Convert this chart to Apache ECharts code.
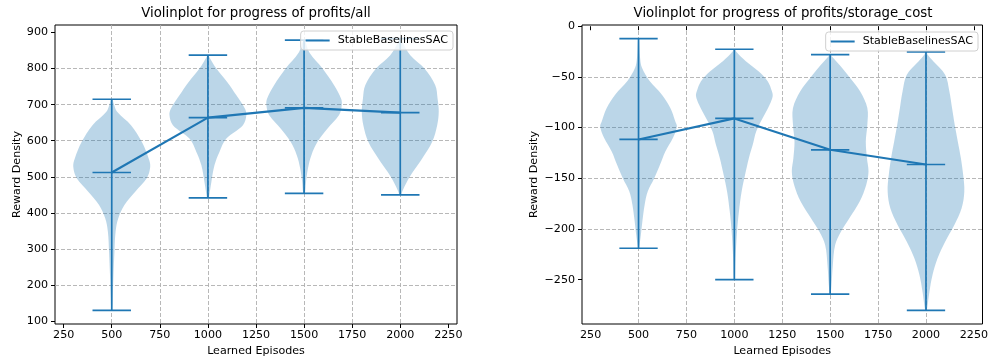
<!DOCTYPE html>
<html><head><meta charset="utf-8">
<script src="https://cdn.jsdelivr.net/npm/echarts@6/dist/echarts.min.js"></script>
<style>html,body{margin:0;padding:0;background:#fff}#c{width:991px;height:363px}</style>
</head><body><div id="c"></div>
<script>
// ---------- data ----------
const positions = [500, 1000, 1500, 2000];
const seriesName = 'StableBaselinesSAC';
const xTickValues = [250, 500, 750, 1000, 1250, 1500, 1750, 2000, 2250];
const allTickValues = [100, 200, 300, 400, 500, 600, 700, 800, 900];
const scTickValues = [-250, -200, -150, -100, -50, 0];

// profits/all : summary per position
const allMax = [715, 837, 879, 883];
const allMin = [130, 442, 454, 450];
const allMean = [512, 664, 691, 678];
// violin outlines: [reward, relative density width]
const all500 = [[715,0.02],[703,0.05],[680,0.14],[643,0.5],[597,0.78],[551,0.96],[528,1.0],[496,0.91],[459,0.61],[422,0.33],[385,0.17],[348,0.1],[292,0.07],[228,0.045],[163,0.025],[130,0.01]];
const all1000 = [[837,0.02],[833,0.03],[800,0.22],[763,0.5],[726,0.74],[689,0.96],[671,1.0],[643,0.91],[606,0.48],[569,0.3],[532,0.17],[486,0.09],[445,0.03],[442,0.02]];
const all1500 = [[879,0.02],[846,0.13],[800,0.48],[754,0.78],[717,0.96],[699,0.98],[671,0.91],[634,0.61],[597,0.35],[560,0.19],[523,0.1],[486,0.05],[454,0.02]];
const all2000 = [[883,0.02],[874,0.05],[837,0.26],[800,0.63],[754,0.91],[717,0.97],[680,1.0],[643,0.96],[597,0.83],[551,0.57],[514,0.33],[486,0.17],[459,0.05],[450,0.02]];

// profits/storage_cost : summary per position
const scMax = [-12.2, -22.7, -28, -25.4];
const scMin = [-219, -250, -264.2, -280.3];
const scMean = [-111.7, -90.9, -121.9, -136.4];
const sc500 = [[-12.2,0.01],[-31,0.04],[-41,0.09],[-54,0.29],[-67.5,0.61],[-80.7,0.83],[-93.9,0.96],[-98.8,1.0],[-110,0.9],[-123.5,0.7],[-136.7,0.56],[-149.9,0.41],[-163,0.24],[-176,0.16],[-192.7,0.1],[-205.9,0.06],[-219,0.01]];
const sc1000 = [[-22.7,0.02],[-24.7,0.04],[-34.6,0.3],[-44.5,0.63],[-54.3,0.87],[-64.2,0.98],[-69,1.0],[-77.4,0.92],[-90.6,0.74],[-103.8,0.57],[-117,0.48],[-130,0.38],[-146.6,0.28],[-163,0.19],[-182.8,0.12],[-202.6,0.07],[-229,0.03],[-250,0.01]];
const sc1500 = [[-28,0.02],[-29.6,0.04],[-37.9,0.24],[-51,0.52],[-64.2,0.78],[-80.7,0.97],[-97.2,0.97],[-113.6,0.93],[-130.1,0.96],[-143.3,1.0],[-156.5,0.94],[-172.9,0.77],[-189.4,0.5],[-202.6,0.28],[-215.8,0.13],[-235.5,0.07],[-255.3,0.035],[-264.2,0.01]];
const sc2000 = [[-25.4,0.02],[-28,0.04],[-34.6,0.19],[-47.8,0.5],[-64.2,0.61],[-80.7,0.68],[-97.2,0.75],[-113.6,0.83],[-130,0.91],[-146.6,0.97],[-163,1.0],[-179.5,0.93],[-196,0.74],[-212.5,0.5],[-229,0.3],[-245.4,0.17],[-261.9,0.09],[-278.3,0.03],[-280.3,0.01]];

// ---------- chart ----------
const C0 = '#1f77b4';
const FONT = '"DejaVu Sans", "Liberation Sans", sans-serif';
const violinWidth = 400, capWidth = 200;
const halfW = violinWidth / 2, capHalf = capWidth / 2;

function padExtent(lo, hi) { const m = 0.05 * (hi - lo); return [lo - m, hi + m]; }
const xExt = padExtent(positions[0] - halfW, positions[positions.length - 1] + halfW);
const allExt = padExtent(Math.min(...allMin), Math.max(...allMax));
const scExt = padExtent(Math.min(...scMin), Math.max(...scMax));

const grids = [
  { left: 55, top: 25, width: 402, height: 299 },
  { left: 582, top: 25, width: 402, height: 299 }
];

function fmtNum(v) { return v < 0 ? '\u2212' + Math.abs(v) : String(v); }

function xAxisOf(i) {
  return {
    gridIndex: i, type: 'value', min: xExt[0], max: xExt[1],
    minInterval: xTickValues[1] - xTickValues[0], maxInterval: xTickValues[1] - xTickValues[0],
    name: 'Learned Episodes', nameLocation: 'middle', nameGap: 21,
    nameTextStyle: { color: '#000', fontSize: 11.1, fontFamily: FONT },
    axisLine: { show: false },
    axisTick: { show: true, length: 4, customValues: xTickValues, lineStyle: { color: '#000', width: 1 } },
    axisLabel: { color: '#000', fontSize: 11.1, fontFamily: FONT, margin: 6, customValues: xTickValues, formatter: fmtNum },
    splitLine: { show: true, showMinLine: false, showMaxLine: false, lineStyle: { color: '#b0b0b0', width: 0.9, type: [4, 2] } }
  };
}
function yAxisOf(i, ext, ticks, gap) {
  return {
    gridIndex: i, type: 'value', min: ext[0], max: ext[1],
    minInterval: ticks[1] - ticks[0], maxInterval: ticks[1] - ticks[0],
    name: 'Reward Density', nameLocation: 'middle', nameGap: gap,
    nameTextStyle: { color: '#000', fontSize: 11.1, fontFamily: FONT },
    axisLine: { show: false },
    axisTick: { show: true, length: 4, customValues: ticks, lineStyle: { color: '#000', width: 1 } },
    axisLabel: { color: '#000', fontSize: 11.1, fontFamily: FONT, margin: 7, customValues: ticks, formatter: fmtNum },
    splitLine: { show: true, showMinLine: false, showMaxLine: false, lineStyle: { color: '#b0b0b0', width: 0.9, type: [4, 2] } }
  };
}

function violinSeries(i, profiles, mins, maxs, means) {
  return {
    type: 'custom', xAxisIndex: i, yAxisIndex: i, silent: true, clip: false,
    data: positions.map((p, k) => [p, mins[k], maxs[k], means[k], k]),
    encode: { x: 0, y: [1, 2] },
    renderItem: function (params, api) {
      const pos = api.value(0), lo = api.value(1), hi = api.value(2), mean = api.value(3);
      const prof = profiles[api.value(4)];
      const right = prof.map(d => api.coord([pos + d[1] * halfW, d[0]]));
      const left = prof.slice().reverse().map(d => api.coord([pos - d[1] * halfW, d[0]]));
      const pts = right.concat(left);
      const ls = { stroke: C0, lineWidth: 1.7 };
      function seg(x1, y1, x2, y2) {
        const a = api.coord([x1, y1]), b = api.coord([x2, y2]);
        return { type: 'line', shape: { x1: a[0], y1: a[1], x2: b[0], y2: b[1] }, style: ls };
      }
      return {
        type: 'group',
        children: [
          { type: 'polygon', shape: { points: pts, smooth: 0.35 }, style: { fill: 'rgba(31,119,180,0.3)', stroke: null } },
          seg(pos, lo, pos, hi),
          seg(pos - capHalf, lo, pos + capHalf, lo),
          seg(pos - capHalf, hi, pos + capHalf, hi),
          seg(pos - capHalf, mean, pos + capHalf, mean)
        ]
      };
    }
  };
}

function meanLine(i, means) {
  return {
    name: seriesName, type: 'line', xAxisIndex: i, yAxisIndex: i, silent: true,
    data: positions.map((p, k) => [p, means[k]]),
    symbol: 'none', showSymbol: false,
    lineStyle: { color: C0, width: 2.1 }, itemStyle: { color: C0 }
  };
}

function legendOf(right, top) {
  return {
    data: [seriesName], right: right, top: top, orient: 'horizontal',
    icon: 'rect', itemWidth: 24, itemHeight: 2,
    backgroundColor: 'rgba(255,255,255,0.8)', borderColor: '#d0d0d0', borderWidth: 1, borderRadius: 3,
    padding: [3, 5, 3, 5], selectedMode: false,
    textStyle: { color: '#000', fontSize: 11.1, fontFamily: FONT, lineHeight: 13, padding: [0, 0, 0, 3] }
  };
}

const chart = echarts.init(document.getElementById('c'), null, { renderer: 'canvas' });
chart.setOption({
  animation: false,
  backgroundColor: '#fff',
  grid: grids.map(g => Object.assign({ show: true, borderColor: '#000', borderWidth: 1, backgroundColor: 'transparent' }, g)),
  xAxis: [xAxisOf(0), xAxisOf(1)],
  yAxis: [yAxisOf(0, allExt, allTickValues, 32), yAxisOf(1, scExt, scTickValues, 42)],
  legend: [legendOf(538, 31), legendOf(13, 32)],
  graphic: [
    { type: 'text', x: 256, y: 14, style: { text: 'Violinplot for progress of profits/all', fill: '#000', font: '13.3px ' + FONT, align: 'center', verticalAlign: 'middle' } },
    { type: 'text', x: 783, y: 14, style: { text: 'Violinplot for progress of profits/storage_cost', fill: '#000', font: '13.3px ' + FONT, align: 'center', verticalAlign: 'middle' } }
  ],
  series: [
    violinSeries(0, [all500, all1000, all1500, all2000], allMin, allMax, allMean),
    meanLine(0, allMean),
    violinSeries(1, [sc500, sc1000, sc1500, sc2000], scMin, scMax, scMean),
    meanLine(1, scMean)
  ]
});
</script>
</body></html>
